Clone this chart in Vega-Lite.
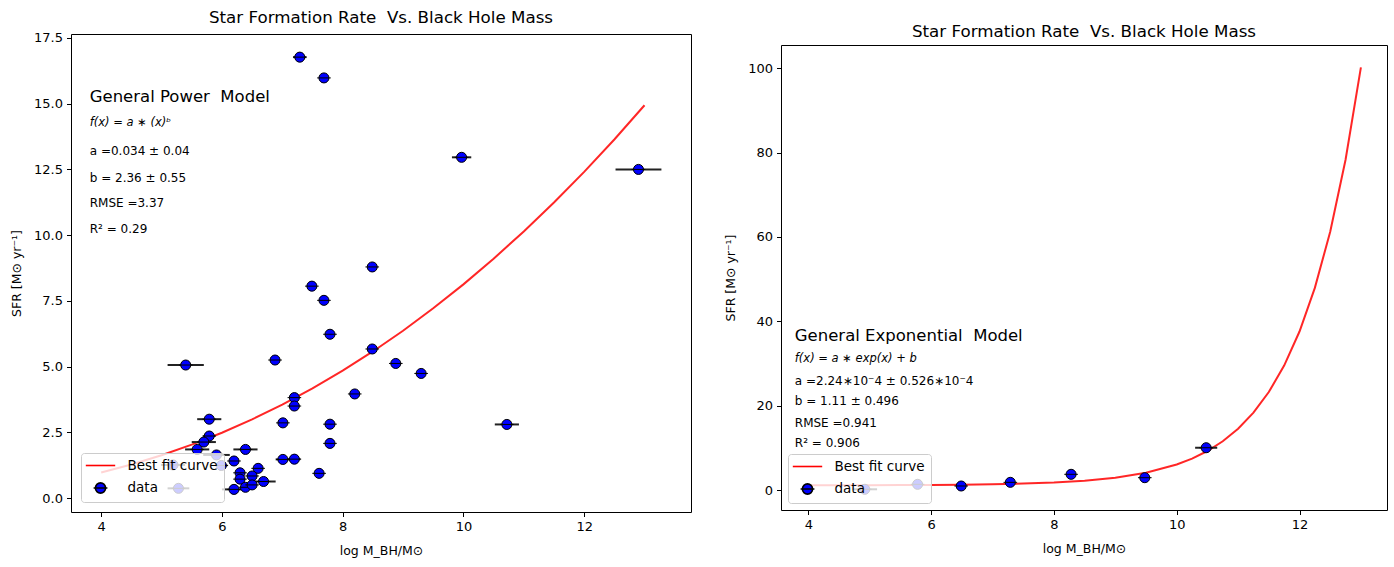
{
  "$schema": "https://vega.github.io/schema/vega-lite/v6.json",
  "padding": {"left": 10, "top": 9, "right": 5, "bottom": 0},
  "spacing": 32,
  "resolve": {"scale": {"color": "independent", "shape": "independent", "stroke": "independent"}, "legend": {"color": "independent", "shape": "independent", "stroke": "independent"}},
  "config": {
    "font": "DejaVu Sans",
    "view": {"stroke": "#000", "strokeWidth": 1},
    "axis": {"domain": false, "domainColor": "#000", "domainWidth": 1, "grid": false, "ticks": true, "tickColor": "#000", "tickSize": 4.5, "labelFontSize": 13, "labelColor": "#000", "labelPadding": 4, "titleFontSize": 12.5, "titleFontWeight": "normal", "titleColor": "#000", "labelFont": "DejaVu Sans", "titleFont": "DejaVu Sans"},
    "title": {"fontSize": 16.7, "fontWeight": "normal", "font": "DejaVu Sans", "color": "#000"}
  },
  "datasets": {
    "ptsL": [
      {"x": 7.29, "y": 16.77, "xerr": 0.11, "series": "data"},
      {"x": 7.69, "y": 15.98, "xerr": 0.05, "series": "data"},
      {"x": 9.97, "y": 12.96, "xerr": 0.16, "series": "data"},
      {"x": 12.9, "y": 12.5, "xerr": 0.38, "series": "data"},
      {"x": 8.49, "y": 8.79, "xerr": 0.05, "series": "data"},
      {"x": 7.49, "y": 8.06, "xerr": 0.06, "series": "data"},
      {"x": 7.69, "y": 7.52, "xerr": 0.05, "series": "data"},
      {"x": 7.79, "y": 6.23, "xerr": 0.05, "series": "data"},
      {"x": 8.49, "y": 5.67, "xerr": 0.05, "series": "data"},
      {"x": 6.88, "y": 5.25, "xerr": 0.06, "series": "data"},
      {"x": 5.4, "y": 5.06, "xerr": 0.3, "series": "data"},
      {"x": 8.88, "y": 5.12, "xerr": 0.06, "series": "data"},
      {"x": 9.3, "y": 4.74, "xerr": 0.05, "series": "data"},
      {"x": 8.2, "y": 3.96, "xerr": 0.05, "series": "data"},
      {"x": 7.2, "y": 3.82, "xerr": 0.05, "series": "data"},
      {"x": 7.2, "y": 3.5, "xerr": 0.05, "series": "data"},
      {"x": 5.79, "y": 3.0, "xerr": 0.2, "series": "data"},
      {"x": 7.01, "y": 2.86, "xerr": 0.05, "series": "data"},
      {"x": 7.79, "y": 2.81, "xerr": 0.05, "series": "data"},
      {"x": 10.72, "y": 2.8, "xerr": 0.2, "series": "data"},
      {"x": 5.79, "y": 2.36, "xerr": 0.1, "series": "data"},
      {"x": 5.7, "y": 2.13, "xerr": 0.2, "series": "data"},
      {"x": 5.59, "y": 1.85, "xerr": 0.2, "series": "data"},
      {"x": 6.39, "y": 1.85, "xerr": 0.2, "series": "data"},
      {"x": 7.79, "y": 2.08, "xerr": 0.05, "series": "data"},
      {"x": 5.91, "y": 1.64, "xerr": 0.22, "series": "data"},
      {"x": 6.2, "y": 1.41, "xerr": 0.05, "series": "data"},
      {"x": 7.01, "y": 1.47, "xerr": 0.12, "series": "data"},
      {"x": 7.2, "y": 1.48, "xerr": 0.1, "series": "data"},
      {"x": 7.61, "y": 0.94, "xerr": 0.05, "series": "data"},
      {"x": 5.99, "y": 1.24, "xerr": 0.1, "series": "data"},
      {"x": 5.19, "y": 1.26, "xerr": 0.2, "series": "data"},
      {"x": 6.6, "y": 1.13, "xerr": 0.05, "series": "data"},
      {"x": 6.3, "y": 0.96, "xerr": 0.05, "series": "data"},
      {"x": 6.5, "y": 0.84, "xerr": 0.05, "series": "data"},
      {"x": 6.3, "y": 0.72, "xerr": 0.05, "series": "data"},
      {"x": 6.69, "y": 0.63, "xerr": 0.2, "series": "data"},
      {"x": 6.39, "y": 0.41, "xerr": 0.05, "series": "data"},
      {"x": 6.5, "y": 0.5, "xerr": 0.05, "series": "data"},
      {"x": 6.2, "y": 0.33, "xerr": 0.2, "series": "data"},
      {"x": 5.28, "y": 0.37, "xerr": 0.18, "series": "data"}
    ],
    "ptsR": [
      {"x": 4.92, "y": 0.17, "xerr": 0.2, "series": "data"},
      {"x": 5.78, "y": 1.35, "xerr": 0.05, "series": "data"},
      {"x": 6.49, "y": 0.95, "xerr": 0.05, "series": "data"},
      {"x": 7.29, "y": 1.82, "xerr": 0.05, "series": "data"},
      {"x": 8.28, "y": 3.72, "xerr": 0.05, "series": "data"},
      {"x": 9.48, "y": 2.92, "xerr": 0.05, "series": "data"},
      {"x": 10.48, "y": 10.02, "xerr": 0.18, "series": "data"}
    ],
    "fitL": [
      {"x": 4.0, "y": 0.97}, {"x": 4.5, "y": 1.275}, {"x": 5.0, "y": 1.628}, {"x": 5.5, "y": 2.031},
      {"x": 6.0, "y": 2.485}, {"x": 6.5, "y": 2.992}, {"x": 7.0, "y": 3.553}, {"x": 7.5, "y": 4.17},
      {"x": 8.0, "y": 4.844}, {"x": 8.5, "y": 5.576}, {"x": 9.0, "y": 6.365}, {"x": 9.5, "y": 7.217},
      {"x": 10.0, "y": 8.128}, {"x": 10.5, "y": 9.103}, {"x": 11.0, "y": 10.14}, {"x": 11.5, "y": 11.243},
      {"x": 12.0, "y": 12.407}, {"x": 12.5, "y": 13.639}, {"x": 13.0, "y": 14.94}
    ],
    "fitR": [
      {"x": 4.0, "y": 1.122}, {"x": 4.5, "y": 1.13}, {"x": 5.0, "y": 1.143}, {"x": 5.5, "y": 1.165},
      {"x": 6.0, "y": 1.2}, {"x": 6.5, "y": 1.259}, {"x": 7.0, "y": 1.356}, {"x": 7.5, "y": 1.515},
      {"x": 8.0, "y": 1.778}, {"x": 8.5, "y": 2.211}, {"x": 9.0, "y": 2.925}, {"x": 9.5, "y": 4.103},
      {"x": 10.0, "y": 6.044}, {"x": 10.25, "y": 7.445}, {"x": 10.5, "y": 9.245}, {"x": 10.75, "y": 11.555},
      {"x": 11.0, "y": 14.52}, {"x": 11.25, "y": 18.33}, {"x": 11.5, "y": 23.22}, {"x": 11.75, "y": 29.5},
      {"x": 12.0, "y": 37.57}, {"x": 12.25, "y": 47.92}, {"x": 12.5, "y": 61.22}, {"x": 12.75, "y": 78.29},
      {"x": 13.0, "y": 100.21}
    ]
  },
  "hconcat": [
    {
      "width": 620,
      "height": 478,
      "title": {"text": "Star Formation Rate \u00a0Vs. Black Hole Mass", "offset": 5},
      "layer": [
        {
          "data": {"name": "fitL"},
          "mark": {"type": "line", "color": "#ff0000", "strokeWidth": 2, "opacity": 0.85},
          "encoding": {
            "x": {"field": "x", "type": "quantitative", "title": "log M_BH/M⊙", "scale": {"domain": [3.5, 13.77], "nice": false, "zero": false}, "axis": {"values": [4, 6, 8, 10, 12], "format": "d", "titlePadding": 11}},
            "y": {"field": "y", "type": "quantitative", "title": "SFR [M⊙ yr⁻¹]", "scale": {"domain": [-0.53, 17.65], "nice": false, "zero": false}, "axis": {"values": [0, 2.5, 5, 7.5, 10, 12.5, 15, 17.5], "format": ".1f", "titlePadding": 10}}
          }
        },
        {
          "data": {"name": "ptsL"},
          "mark": {"type": "errorbar", "color": "#222222", "thickness": 2},
          "encoding": {
            "x": {"field": "x", "type": "quantitative", "title": "log M_BH/M⊙"},
            "xError": {"field": "xerr"},
            "y": {"field": "y", "type": "quantitative", "title": "SFR [M⊙ yr⁻¹]"}
          }
        },
        {
          "data": {"name": "ptsL"},
          "mark": {"type": "point", "filled": true, "size": 140, "strokeWidth": 1, "opacity": 1},
          "encoding": {
            "x": {"field": "x", "type": "quantitative", "title": "log M_BH/M⊙"},
            "y": {"field": "y", "type": "quantitative", "title": "SFR [M⊙ yr⁻¹]"},
            "color": {
              "field": "series", "type": "nominal",
              "scale": {"domain": ["Best fit curve", "data"], "range": ["#ff0000", "#0000ff"]},
              "legend": {
                "orient": "bottom-left", "offset": 10, "title": null,
                "fillColor": "rgba(255,255,255,0.8)", "strokeColor": "#cccccc", "cornerRadius": 3,
                "padding": 5.5, "labelFontSize": 13.5, "labelColor": "#000", "labelFont": "DejaVu Sans",
                "symbolSize": 144, "symbolOffset": 7, "labelOffset": 20, "rowPadding": 6.5,
                "symbolStrokeWidth": 1.6, "symbolOpacity": 1
              }
            },
            "shape": {
              "field": "series", "type": "nominal",
              "scale": {"domain": ["Best fit curve", "data"], "range": ["M-2.45,0L2.45,0", "M-0.85,0A0.85,0.85,0,1,1,0.85,0A0.85,0.85,0,1,1,-0.85,0Z M-1.15,0L1.15,0"]}
            },
            "stroke": {
              "field": "series", "type": "nominal",
              "scale": {"domain": ["Best fit curve", "data"], "range": ["#ff0000", "#000000"]}
            }
          }
        },
        {
          "data": {"values": [{"x": 3.81, "y": 15.26, "t": "General Power \u00a0Model"}]},
          "mark": {"type": "text", "align": "left", "baseline": "middle", "fontSize": 16.5, "font": "DejaVu Sans", "color": "#000"},
          "encoding": {"x": {"field": "x", "type": "quantitative", "title": "log M_BH/M⊙"}, "y": {"field": "y", "type": "quantitative", "title": "SFR [M⊙ yr⁻¹]"}, "text": {"field": "t"}}
        },
        {
          "data": {"values": [{"x": 3.81, "y": 14.26, "t": "f(x) = a ∗ (x)ᵇ"}]},
          "mark": {"type": "text", "align": "left", "baseline": "middle", "fontSize": 11.5, "fontStyle": "italic", "font": "DejaVu Sans", "color": "#000"},
          "encoding": {"x": {"field": "x", "type": "quantitative", "title": "log M_BH/M⊙"}, "y": {"field": "y", "type": "quantitative", "title": "SFR [M⊙ yr⁻¹]"}, "text": {"field": "t"}}
        },
        {
          "data": {"values": [
            {"x": 3.81, "y": 13.2, "t": "a =0.034 ± 0.04"},
            {"x": 3.81, "y": 12.18, "t": "b = 2.36 ± 0.55"},
            {"x": 3.81, "y": 11.21, "t": "RMSE =3.37"},
            {"x": 3.81, "y": 10.22, "t": "R² = 0.29"}
          ]},
          "mark": {"type": "text", "align": "left", "baseline": "middle", "fontSize": 12, "font": "DejaVu Sans", "color": "#000"},
          "encoding": {"x": {"field": "x", "type": "quantitative", "title": "log M_BH/M⊙"}, "y": {"field": "y", "type": "quantitative", "title": "SFR [M⊙ yr⁻¹]"}, "text": {"field": "t"}}
        }
      ]
    },
    {
      "width": 606,
      "height": 476,
      "view": {"stroke": null},
      "title": {"text": "Star Formation Rate \u00a0Vs. Black Hole Mass", "offset": -7},
      "resolve": {"axis": {"x": "independent", "y": "independent"}},
      "layer": [
        {
          "data": {"name": "fitR"},
          "mark": {"type": "line", "color": "#ff0000", "strokeWidth": 2, "opacity": 0.85},
          "encoding": {
            "x": {"field": "x", "type": "quantitative", "title": "log M_BH/M⊙", "scale": {"domain": [3.555, 13.425], "nice": false, "zero": false}, "axis": {"values": [4, 6, 8, 10, 12], "format": "d", "titlePadding": 11, "domain": true}},
            "y": {"field": "y", "type": "quantitative", "title": "SFR [M⊙ yr⁻¹]", "scale": {"domain": [-4.74, 105.5], "range": [476, 11], "nice": false, "zero": false}, "axis": {"values": [0, 20, 40, 60, 80, 100], "format": "d", "titlePadding": 10, "domain": true}}
          }
        },
        {
          "data": {"name": "ptsR"},
          "mark": {"type": "errorbar", "color": "#222222", "thickness": 2},
          "encoding": {
            "x": {"field": "x", "type": "quantitative", "axis": null},
            "xError": {"field": "xerr"},
            "y": {"field": "y", "type": "quantitative", "axis": null}
          }
        },
        {
          "data": {"name": "ptsR"},
          "mark": {"type": "point", "filled": true, "size": 140, "strokeWidth": 1, "opacity": 1},
          "encoding": {
            "x": {"field": "x", "type": "quantitative", "axis": null},
            "y": {"field": "y", "type": "quantitative", "axis": null},
            "color": {
              "field": "series", "type": "nominal",
              "scale": {"domain": ["Best fit curve", "data"], "range": ["#ff0000", "#0000ff"]},
              "legend": {
                "orient": "bottom-left", "offset": 7, "title": null,
                "fillColor": "rgba(255,255,255,0.8)", "strokeColor": "#cccccc", "cornerRadius": 3,
                "padding": 5.5, "labelFontSize": 13.5, "labelColor": "#000", "labelFont": "DejaVu Sans",
                "symbolSize": 144, "symbolOffset": 7, "labelOffset": 20, "rowPadding": 6.5,
                "symbolStrokeWidth": 1.6, "symbolOpacity": 1
              }
            },
            "shape": {
              "field": "series", "type": "nominal",
              "scale": {"domain": ["Best fit curve", "data"], "range": ["M-2.45,0L2.45,0", "M-0.85,0A0.85,0.85,0,1,1,0.85,0A0.85,0.85,0,1,1,-0.85,0Z M-1.15,0L1.15,0"]}
            },
            "stroke": {
              "field": "series", "type": "nominal",
              "scale": {"domain": ["Best fit curve", "data"], "range": ["#ff0000", "#000000"]}
            }
          }
        },
        {
          "data": {"values": [{"x": 3.78, "y": 36.5, "t": "General Exponential \u00a0Model"}]},
          "mark": {"type": "text", "align": "left", "baseline": "middle", "fontSize": 16.5, "font": "DejaVu Sans", "color": "#000"},
          "encoding": {
            "x": {"field": "x", "type": "quantitative", "axis": {"orient": "top", "offset": -11, "labels": false, "ticks": false, "title": null, "domain": true}},
            "y": {"field": "y", "type": "quantitative", "axis": {"orient": "right", "labels": false, "ticks": false, "title": null, "domain": true}},
            "text": {"field": "t"}
          }
        },
        {
          "data": {"values": [{"x": 3.78, "y": 31.0, "t": "f(x) = a ∗ exp(x) + b"}]},
          "mark": {"type": "text", "align": "left", "baseline": "middle", "fontSize": 11.5, "fontStyle": "italic", "font": "DejaVu Sans", "color": "#000"},
          "encoding": {"x": {"field": "x", "type": "quantitative", "axis": null}, "y": {"field": "y", "type": "quantitative", "axis": null}, "text": {"field": "t"}}
        },
        {
          "data": {"values": [
            {"x": 3.78, "y": 25.8, "t": "a =2.24∗10⁻4 ± 0.526∗10⁻4"},
            {"x": 3.78, "y": 21.1, "t": "b = 1.11 ± 0.496"},
            {"x": 3.78, "y": 16.0, "t": "RMSE =0.941"},
            {"x": 3.78, "y": 11.2, "t": "R² = 0.906"}
          ]},
          "mark": {"type": "text", "align": "left", "baseline": "middle", "fontSize": 12, "font": "DejaVu Sans", "color": "#000"},
          "encoding": {"x": {"field": "x", "type": "quantitative", "axis": null}, "y": {"field": "y", "type": "quantitative", "axis": null}, "text": {"field": "t"}}
        }
      ]
    }
  ]
}
